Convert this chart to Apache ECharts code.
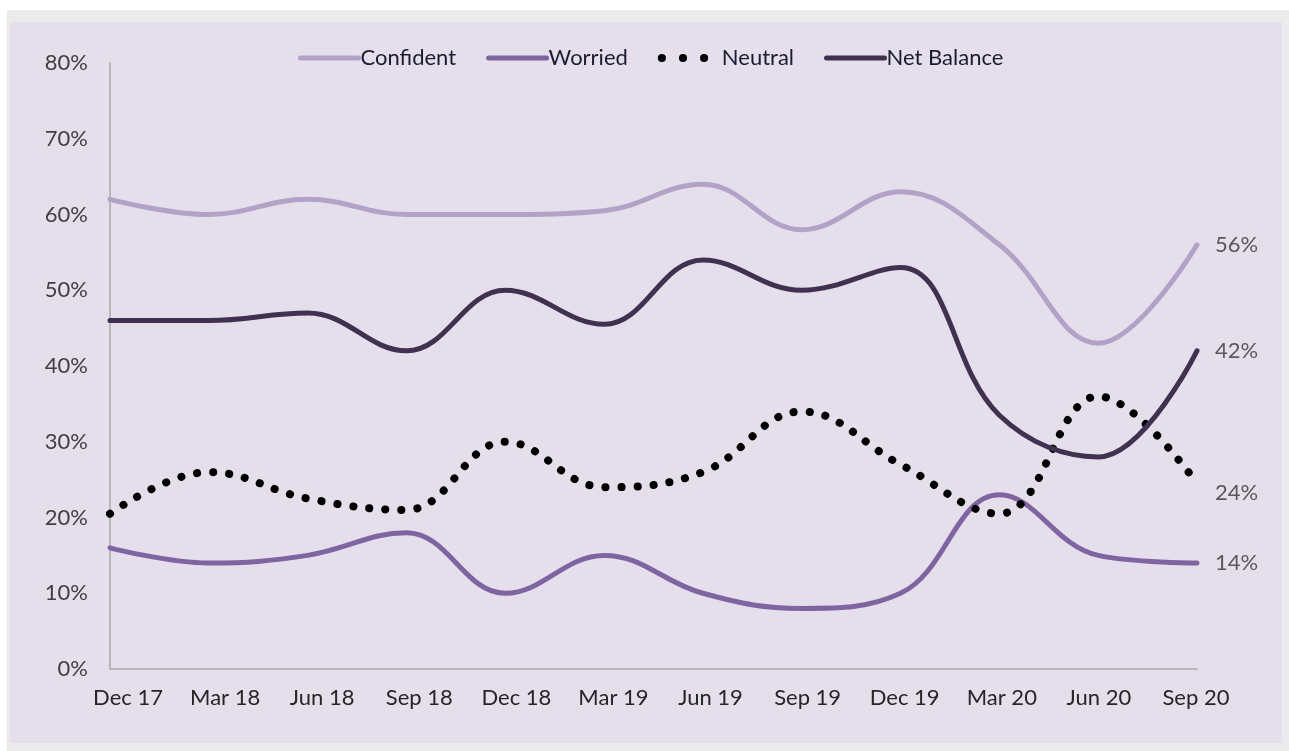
<!DOCTYPE html>
<html>
<head>
<meta charset="utf-8">
<script src="https://cdn.jsdelivr.net/npm/echarts@6/dist/echarts.min.js"></script>
<style>
  html, body { margin: 0; padding: 0; background: #ffffff; }
  #frame { position: absolute; left: 7px; top: 10px; width: 1282px; height: 741px; background: #ebebeb; }
  #panel { position: absolute; left: 10px; top: 22px; width: 1272px; height: 721px; background: #e5dfec; }
  #chart { position: absolute; left: 0; top: 0; width: 1289px; height: 751px; }
</style>
</head>
<body>
<div id="frame"></div>
<div id="panel"></div>
<div id="chart"></div>
<script>
const categories = ['Dec 17','Mar 18','Jun 18','Sep 18','Dec 18','Mar 19','Jun 19','Sep 19','Dec 19','Mar 20','Jun 20','Sep 20'];
const confident  = [62, 60, 62, 60, 60, 60.5, 64, 58, 63, 56, 43, 56];
const worried    = [16, 14, 15, 18, 10, 15, 10, 8, 10, 23, 15, 14];
const neutral    = [20.5, 26, 22.5, 21, 30, 24, 26, 34, 27, 20.5, 36, 24.5];
const netBalance = [46, 46, 47, 42, 50, 45.5, 54, 50, 53, 33.5, 28, 42];
const endLabels  = ['56%', '42%', '24%', '14%'];
const yTicks = [0, 10, 20, 30, 40, 50, 60, 70, 80];

const FONT = 'Lato';

function endLabel(text, dy) {
  return {
    show: true, distance: 18, offset: [0, dy],
    formatter: text, color: '#595959', fontFamily: FONT, fontSize: 22
  };
}

const chart = echarts.init(document.getElementById('chart'), null, { renderer: 'canvas' });
chart.setOption({
  backgroundColor: 'transparent',
  animation: false,
  legend: {
    left: 293, top: 42,
    itemWidth: 58, itemHeight: 14, itemGap: 30,
    itemStyle: { opacity: 0 },
    lineStyle: { width: 5 },
    textStyle: { fontFamily: FONT, fontSize: 22, color: '#1c1c30', padding: [0, 0, 0, -3] },
    data: [
      { name: 'Confident' },
      { name: 'Worried' },
      { name: 'Neutral', lineStyle: { width: 8, type: [0.1, 21], cap: 'round' } },
      { name: 'Net Balance' }
    ]
  },
  grid: [
    { left: 110, right: 92, top: 63, bottom: 82 },
    { left: 79.5, right: 44.5, top: 63, bottom: 82 }
  ],
  xAxis: [
    {
      type: 'category', gridIndex: 0, data: categories, boundaryGap: false,
      axisLine: { lineStyle: { color: '#b8b8b8', width: 2 } },
      axisTick: { show: false },
      axisLabel: { show: false }
    },
    {
      type: 'category', gridIndex: 1, data: categories, boundaryGap: true,
      axisLine: { show: false }, axisTick: { show: false },
      axisLabel: { margin: 18, fontFamily: FONT, fontSize: 22, color: '#262626', interval: 0 }
    }
  ],
  yAxis: [
    {
      type: 'value', gridIndex: 0, min: yTicks[0], max: yTicks[yTicks.length - 1], interval: 10,
      axisLine: { show: true, lineStyle: { color: '#b8b8b8', width: 2 } },
      axisTick: { show: false },
      splitLine: { show: false },
      axisLabel: { margin: 22, fontFamily: FONT, fontSize: 22, color: '#404040', formatter: '{value}%' }
    },
    { type: 'value', gridIndex: 1, show: false, min: 0, max: 80 }
  ],
  series: [
    {
      name: 'Confident', type: 'line', smooth: 0.4, symbol: 'none',
      lineStyle: { color: '#b3a2c7', width: 5, cap: 'round' }, itemStyle: { color: '#b3a2c7' },
      endLabel: endLabel(endLabels[0], 0),
      data: confident
    },
    {
      name: 'Worried', type: 'line', smooth: 0.4, symbol: 'none',
      lineStyle: { color: '#8064a2', width: 5, cap: 'round' }, itemStyle: { color: '#8064a2' },
      endLabel: endLabel(endLabels[3], 0),
      data: worried
    },
    {
      name: 'Neutral', type: 'line', smooth: 0.4, symbol: 'none',
      lineStyle: { color: '#000000', width: 8, type: [0.1, 16], cap: 'round' }, itemStyle: { color: '#000000' },
      endLabel: endLabel(endLabels[2], 9),
      data: neutral
    },
    {
      name: 'Net Balance', type: 'line', smooth: 0.4, symbol: 'none',
      lineStyle: { color: '#403151', width: 5, cap: 'round' }, itemStyle: { color: '#403151' },
      endLabel: endLabel(endLabels[1], 0),
      data: netBalance
    }
  ]
});
</script>
</body>
</html>
